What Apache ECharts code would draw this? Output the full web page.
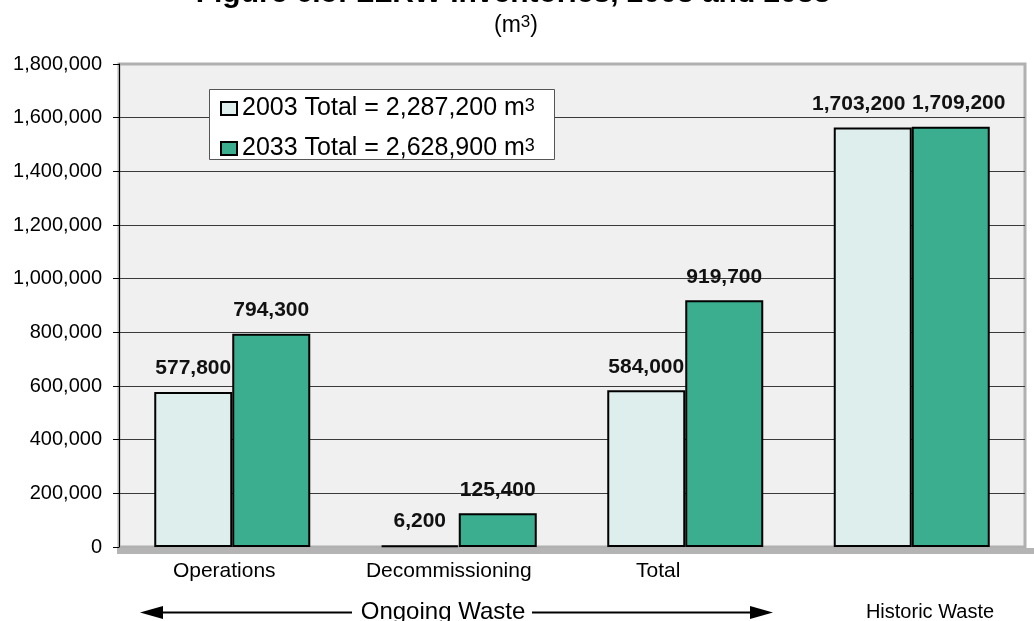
<!DOCTYPE html>
<html>
<head>
<meta charset="utf-8">
<script src="https://cdn.jsdelivr.net/npm/echarts@6/dist/echarts.min.js"></script>
<style>
html,body{margin:0;padding:0;background:#fff;}
#chart{width:1034px;height:621px;}
</style>
</head>
<body>
<div id="chart"></div>
<script>
// ---- data ----
const categories = ['Operations', 'Decommissioning', 'Total', 'Historic'];
const categoryLabels = ['Operations', 'Decommissioning', 'Total', ''];
const seriesNames = ['2003', '2033'];
const values2003 = [577800, 6200, 584000, 1563000];
const values2033 = [794300, 125400, 919700, 1566000];
const labels2003 = ['577,800', '6,200', '584,000', '1,703,200'];
const labels2033 = ['794,300', '125,400', '919,700', '1,709,200'];
const legendTotals = ['2,287,200', '2,628,900'];
const yMin = 0, yMax = 1800000, yInterval = 200000;

const FONT = '"Liberation Sans", Arial, Helvetica, sans-serif';
const chart = echarts.init(document.getElementById('chart'));

const labelShift = [-8, -10, -27, 0];
const xData = categoryLabels.map((c, i) => ({
  value: c,
  textStyle: { padding: labelShift[i] < 0 ? [0, -2 * labelShift[i], 0, 0] : 0 }
}));

function fmt(v) { return v.toString().replace(/\B(?=(\d{3})+(?!\d))/g, ','); }

function makeSeries(name, values, labels, color, lastOffset) {
  return {
    name: name,
    type: 'bar',
    barWidth: 78,
    barGap: '0%',
    data: values.map((v, i) => ({
      value: v,
      label: i === values.length - 1 ? { offset: [lastOffset, 0] } : undefined
    })),
    itemStyle: { color: color, borderColor: '#000', borderWidth: 2 },
    label: {
      show: true,
      position: 'top',
      distance: 13,
      fontFamily: FONT,
      fontWeight: 'bold',
      fontSize: 21,
      color: '#111',
      formatter: p => labels[p.dataIndex]
    }
  };
}

const option = {
  backgroundColor: '#fff',
  animation: false,
  grid: {
    left: 119, right: 9, top: 64, bottom: 74,
    show: true, backgroundColor: '#f0f0f0', borderColor: '#b0b0b0', borderWidth: 3
  },
  legend: {
    orient: 'vertical',
    left: 220, top: 96,
    padding: 0,
    itemWidth: 16, itemHeight: 13, itemGap: 15,
    icon: 'rect',
    data: seriesNames,
    formatter: name => '{t|' + name + ' Total = ' + legendTotals[seriesNames.indexOf(name)] + ' m}{s|3}',
    textStyle: {
      color: '#000',
      rich: {
        t: { fontFamily: FONT, fontSize: 25, lineHeight: 22, color: '#000' },
        s: { fontFamily: FONT, fontSize: 18, lineHeight: 12, verticalAlign: 'top', color: '#000' }
      }
    }
  },
  xAxis: {
    type: 'category',
    data: xData,
    axisLine: { show: false },
    axisTick: { show: false },
    axisLabel: { fontFamily: FONT, fontSize: 21, color: '#000', margin: 14, interval: 0 }
  },
  yAxis: {
    type: 'value',
    min: yMin, max: yMax, interval: yInterval,
    axisLine: { show: true, lineStyle: { color: '#000', width: 1 } },
    axisTick: { show: true, length: 6, lineStyle: { color: '#000' } },
    axisLabel: { fontFamily: FONT, fontSize: 20, color: '#000', margin: 17, formatter: v => fmt(v) },
    splitLine: { show: true, showMinLine: false, showMaxLine: false, lineStyle: { color: '#3a3a3a', width: 1 } }
  },
  series: [
    makeSeries(seriesNames[0], values2003, labels2003, '#deeeec', -14),
    makeSeries(seriesNames[1], values2033, labels2033, '#3aae8f', 8)
  ],
  graphic: [
    { type: 'rect', z: 3, shape: { x: 209.5, y: 89.5, width: 345, height: 70 }, style: { fill: '#fff', stroke: '#555', lineWidth: 1 } },
    { type: 'rect', shape: { x: 117, y: 548, width: 917, height: 6 }, style: { fill: '#b4b4b4' }, z: 5 },
    { type: 'text', style: { x: 513, y: -6, text: 'Figure 6.5: LLRW Inventories, 2003 and 2033',
        font: 'bold 30px ' + FONT, fill: '#000', align: 'center', verticalAlign: 'middle',
        textAlign: 'center', textVerticalAlign: 'middle' } },
    { type: 'text', style: { x: 516, y: 26, text: '{a|(m}{s|3}{a|)}',
        rich: { a: { fontFamily: FONT, fontSize: 23, lineHeight: 24, fill: '#000', color: '#000' },
                s: { fontFamily: FONT, fontSize: 17, lineHeight: 12, verticalAlign: 'top', fill: '#000', color: '#000' } },
        align: 'center', verticalAlign: 'middle', textAlign: 'center', textVerticalAlign: 'middle' } },
    { type: 'text', style: { x: 443, y: 612, text: 'Ongoing Waste', font: '24px ' + FONT, fill: '#000',
        align: 'center', verticalAlign: 'middle', textAlign: 'center', textVerticalAlign: 'middle' } },
    { type: 'text', style: { x: 930, y: 612, text: 'Historic Waste', font: '20px ' + FONT, fill: '#000',
        align: 'center', verticalAlign: 'middle', textAlign: 'center', textVerticalAlign: 'middle' } },
    { type: 'line', shape: { x1: 155, y1: 612.5, x2: 352, y2: 612.5 }, style: { stroke: '#000', lineWidth: 2 } },
    { type: 'polygon', shape: { points: [[140, 612.5], [163, 606], [163, 619]] }, style: { fill: '#000' } },
    { type: 'line', shape: { x1: 532, y1: 612.5, x2: 760, y2: 612.5 }, style: { stroke: '#000', lineWidth: 2 } },
    { type: 'polygon', shape: { points: [[773, 612.5], [750, 606], [750, 619]] }, style: { fill: '#000' } }
  ]
};
chart.setOption(option);
</script>
</body>
</html>
